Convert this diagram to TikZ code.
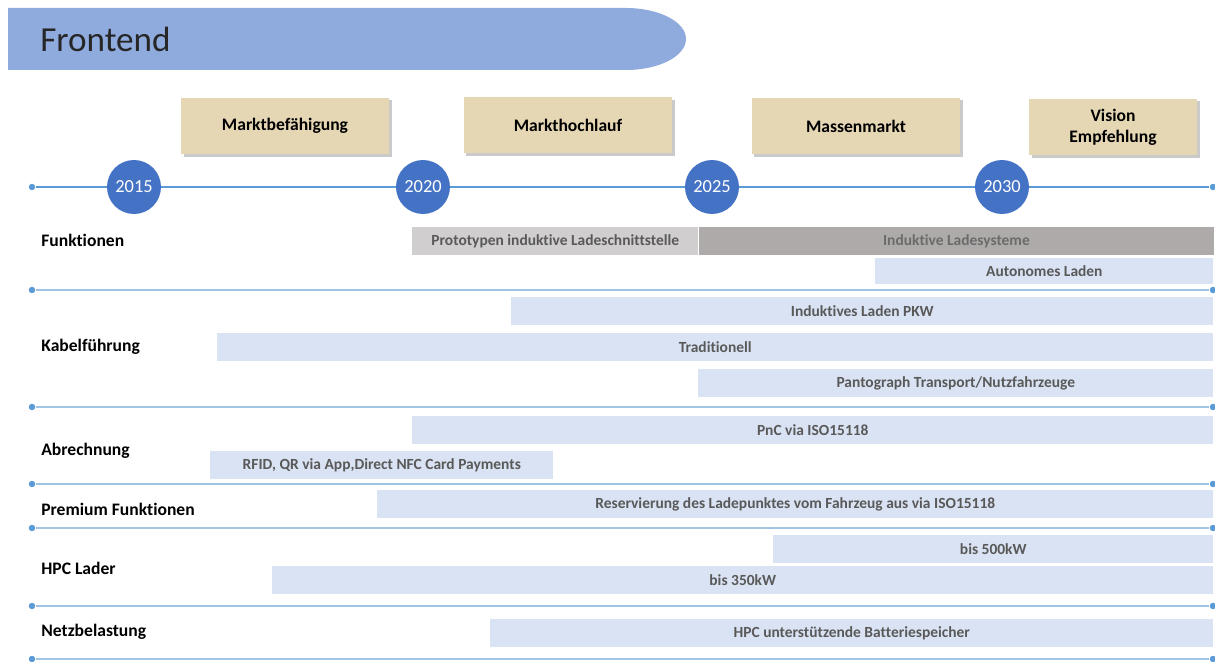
\documentclass[tikz,border=0pt]{standalone}
\usepackage{fontspec}
\setmainfont{Carlito}[Ligatures=NoCommon]
\usetikzlibrary{positioning, shadows}
\definecolor{headblue}{RGB}{143,170,220}
\definecolor{lineblue}{RGB}{91,155,213}
\definecolor{sepblue}{RGB}{160,196,228}
\definecolor{yearblue}{RGB}{68,114,196}
\definecolor{phasetan}{RGB}{229,214,180}
\definecolor{barblue}{RGB}{218,227,243}
\definecolor{barlight}{RGB}{208,206,206}
\definecolor{bardark}{RGB}{174,170,170}
\definecolor{bartext}{RGB}{89,89,89}
\tikzset{
  year/.style={circle, fill=yearblue, text=white, minimum size=1.08cm,
    inner sep=0pt, font=\fontsize{10.5}{12}\selectfont},
  phase/.style={fill=phasetan, align=center, inner sep=0pt,
    font=\bfseries\fontsize{10}{12}\selectfont,
    drop shadow={shadow xshift=1.5pt, shadow yshift=-1.5pt, opacity=.35, fill=black!60}},
  rowlabel/.style={anchor=west, inner sep=0pt, font=\bfseries\fontsize{10}{12}\selectfont},
  bar/.style={anchor=west, fill=barblue, text=bartext, inner sep=0pt,
    minimum height=0.57cm, font=\bfseries\fontsize{8.8}{10}\selectfont},
  sepline/.style={sepblue, line width=0.8pt},
  tick/.style={circle, fill=lineblue, inner sep=0pt, minimum size=0.13cm},
}

\begin{document}
\begin{tikzpicture}[x=0.02cm, y=-0.02cm]
	\useasboundingbox (0,0) rectangle (1215,662);

	% title banner
	\fill[headblue] (8,8) -- (626,8) arc[start angle=90, end angle=-90, x radius=1.2cm, y radius=0.62cm] -- (8,70) -- cycle;
	\node[anchor=west, inner sep=0pt, text=black!85, font=\fontsize{20}{24}\selectfont] (title) at (40,39) {Frontend};

	% phases
	\node[phase, minimum width=4.16cm, minimum height=1.14cm] (p1) at (285,126) {Marktbefähigung};
	\node[phase, minimum width=4.18cm, minimum height=1.12cm] (p2) at (568,125) {Markthochlauf};
	\node[phase, minimum width=4.18cm, minimum height=1.14cm] (p3) at (856,126) {Massenmarkt};
	\node[phase, minimum width=3.36cm, minimum height=1.14cm] (p4) at (1113,127) {Vision\\Empfehlung};

	% time axis
	\node[tick] (t0) at (32,187) {};
	\node[tick] (t1) at (1213,187) {};
	\node[year] (y15) at (134,187) {2015};
	\node[year] (y20) at (423,187) {2020};
	\node[year] (y25) at (712,187) {2025};
	\node[year] (y30) at (1002,187) {2030};
	\draw[lineblue, line width=1.1pt] (t0) -- (y15) -- (y20) -- (y25) -- (y30) -- (t1);

	% row separators
	\foreach \y [count=\i] in {290,407,484,528,606,659} {
		\node[tick] (sl\i) at (32,\y) {};
		\node[tick] (sr\i) at (1213,\y) {};
		\draw[sepline] (sl\i) -- (sr\i);
	}

	% rows
	\node[rowlabel] (funk) at (41,240) {Funktionen};
	\node[rowlabel] (kabel) at (41,347) {Kabelführung};
	\node[rowlabel] (abr) at (41,451) {Abrechnung};
	\node[rowlabel] (prem) at (41,509) {Premium Funktionen};
	\node[rowlabel] (hpc) at (41,568) {HPC Lader};
	\node[rowlabel] (netz) at (41,632) {Netzbelastung};

	% bars
	\node[bar, fill=barlight, minimum width=5.72cm, minimum height=0.56cm] (proto) at (412,241) {Prototypen induktive Ladeschnittstelle};
	\node[bar, fill=bardark, text=black!58, minimum width=10.3cm, minimum height=0.56cm, right=0pt of proto] (indsys) {Induktive Ladesysteme};
	\node[bar, minimum width=6.76cm, minimum height=0.54cm] (auto) at (875,271) {Autonomes Laden};
	\node[bar, minimum width=14.04cm] (pkw) at (511,311) {Induktives Laden PKW};
	\node[bar, minimum width=19.92cm] (trad) at (217,347) {Traditionell};
	\node[bar, minimum width=10.3cm] (panto) at (698,383) {Pantograph Transport/Nutzfahrzeuge};
	\node[bar, minimum width=16.02cm] (pnc) at (412,430) {PnC via ISO15118};
	\node[bar, minimum width=6.86cm, minimum height=0.56cm] (rfid) at (210,465) {RFID, QR via App,Direct NFC Card Payments};
	\node[bar, minimum width=16.72cm] (resv) at (377,504) {Reservierung des Ladepunktes vom Fahrzeug aus via ISO15118};
	\node[bar, minimum width=8.8cm, minimum height=0.56cm] (kw500) at (773,549) {bis 500kW};
	\node[bar, minimum width=18.82cm] (kw350) at (272,580) {bis 350kW};
	\node[bar, minimum width=14.46cm] (batt) at (490,633) {HPC unterstützende Batteriespeicher};
\end{tikzpicture}
\end{document}
